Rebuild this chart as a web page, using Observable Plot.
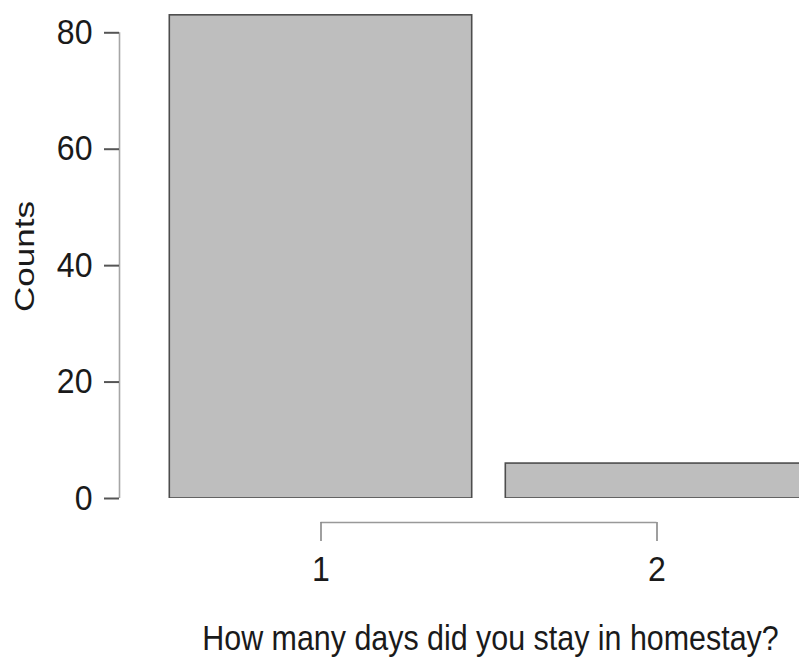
<!DOCTYPE html>
<html>
<head>
<meta charset="utf-8">
<script src="https://cdn.jsdelivr.net/npm/d3@7"></script>
<script src="https://cdn.jsdelivr.net/npm/@observablehq/plot@0.6"></script>
<style>
  html, body { margin: 0; padding: 0; background: white; }
  body { width: 799px; height: 658px; overflow: hidden; }
</style>
</head>
<body>
<div id="chart"></div>
<script>
const days = [1, 2];
const counts = [83, 6];
const yTicks = [0, 20, 40, 60, 80];
const xTickLabels = ["1", "2"];
const xLabel = "How many days did you stay in homestay?";
const yLabel = "Counts";

const data = days.map((d, i) => ({day: d, count: counts[i]}));
const halfWidth = 0.45;
const xDomain = [0.4003, 2.4241];

const chart = Plot.plot({
  width: 799,
  height: 658,
  marginLeft: 119,
  marginRight: 0,
  marginTop: 9,
  marginBottom: 160,
  style: {fontFamily: "'Liberation Sans', Arial, Helvetica, sans-serif", background: "white", color: "#1a1a1a"},
  x: {type: "linear", domain: xDomain, axis: null},
  y: {domain: [0, 84], axis: null},
  marks: [
    Plot.rectY(data, {x1: d => d.day - halfWidth, x2: d => d.day + halfWidth, y1: 0, y2: "count",
      fill: "#bebebe", stroke: "#4d4d4d", strokeWidth: 1.6, clip: true}),
    Plot.ruleX([xDomain[0]], {y1: yTicks[0], y2: yTicks[yTicks.length - 1], stroke: "#a6a6a6", strokeWidth: 1.6}),
    Plot.axisY(yTicks, {anchor: "left", tickSize: 15, tickPadding: 12, fontSize: 34.5,
      stroke: "#555", strokeWidth: 2, fill: "#1a1a1a", label: null, tickFormat: d => String(d)}),
    Plot.ruleY([0], {x1: days[0], x2: days[days.length - 1], dy: 24, stroke: "#999", strokeWidth: 1.6}),
    Plot.axisX(days, {anchor: "bottom", tickSize: 19, tickPadding: 15, dy: 24, fontSize: 34.5,
      stroke: "#888", strokeWidth: 1.6, fill: "#1a1a1a", label: null,
      tickFormat: d => xTickLabels[days.indexOf(d)]}),
    Plot.text([yLabel], {frameAnchor: "left", textAnchor: "middle", lineAnchor: "middle",
      dx: -94, dy: 2.5, rotate: -90, fontSize: 35, fill: "#1a1a1a"}),
    Plot.text([xLabel], {frameAnchor: "bottom", textAnchor: "middle", lineAnchor: "middle",
      dx: 31, dy: 139.5, fontSize: 36, fill: "#1a1a1a"})
  ]
});

document.getElementById("chart").appendChild(chart);

// condense text horizontally, as in the reference rendering
const svgNS = "http://www.w3.org/2000/svg";
function condense(label, s) {
  const t = Array.from(chart.querySelectorAll("text")).find(e => e.textContent === label);
  if (!t) return;
  const g = t.parentNode;
  const sr = chart.getBoundingClientRect();
  const r = t.getBoundingClientRect();
  const cx = r.left + r.width / 2 - sr.left;
  const w = document.createElementNS(svgNS, "g");
  g.parentNode.insertBefore(w, g);
  w.appendChild(g);
  w.setAttribute("transform", `translate(${cx},0) scale(${s},1) translate(${-cx},0)`);
}
condense(yLabel, 0.8);
condense(xLabel, 0.845);

const tickTexts = new Set([...yTicks.map(String), ...xTickLabels]);
for (const t of chart.querySelectorAll("text")) {
  if (tickTexts.has(t.textContent)) {
    const tr = t.getAttribute("transform") || "";
    t.setAttribute("transform", `${tr} scale(0.93,1)`);
  }
}
</script>
</body>
</html>
